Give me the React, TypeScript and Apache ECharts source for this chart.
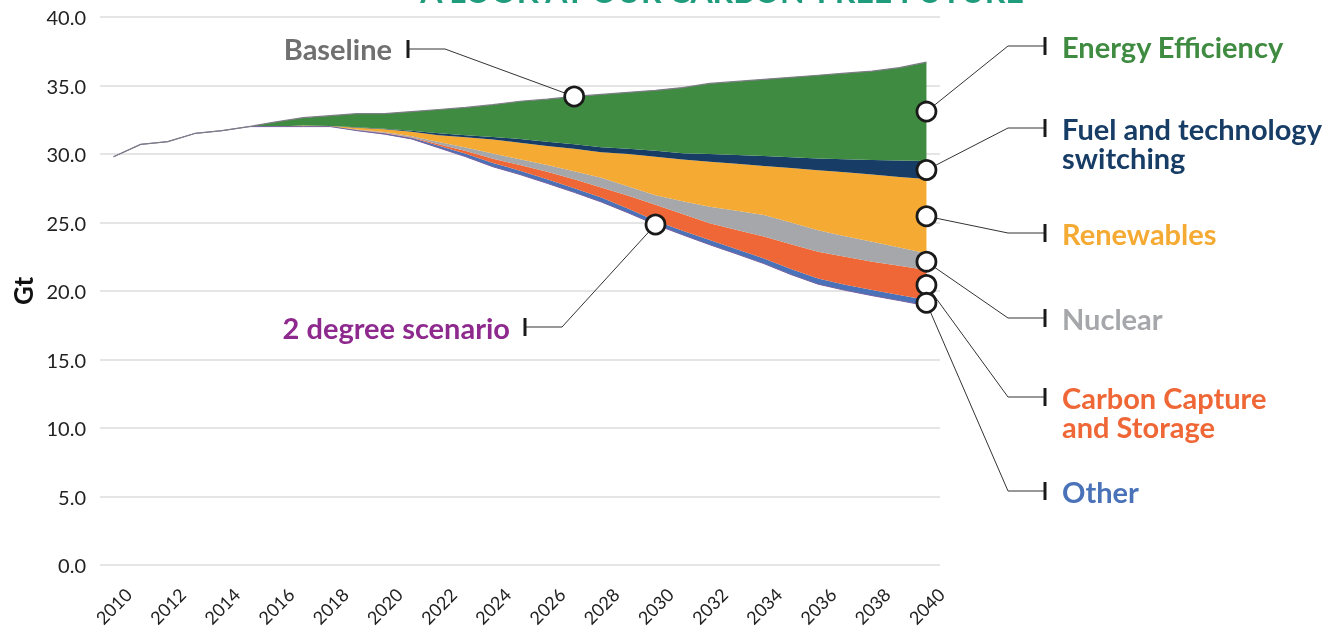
import React, { useEffect, useRef } from "react";
import * as echarts from "echarts";

const years = [
  "2010","2011","2012","2013","2014","2015","2016","2017","2018","2019","2020",
  "2021","2022","2023","2024","2025","2026","2027","2028","2029","2030",
  "2031","2032","2033","2034","2035","2036","2037","2038","2039","2040",
];

const yTicks = { min: 0, max: 40, interval: 5 };

const baseline = [29.8, 30.7, 30.9, 31.5, 31.7, 32.0, 32.35, 32.65, 32.8, 32.95, 32.95, 33.1, 33.25, 33.4, 33.6, 33.85, 34.0, 34.2, 34.35, 34.5, 34.65, 34.85, 35.15, 35.3, 35.45, 35.6, 35.75, 35.9, 36.05, 36.3, 36.7];

const twoDegree = [29.8, 30.7, 30.9, 31.5, 31.7, 32.0, 32.0, 32.0, 32.0, 31.7, 31.45, 31.1, 30.45, 29.8, 29.07, 28.5, 27.86, 27.2, 26.5, 25.7, 24.85, 24.1, 23.38, 22.7, 22.0, 21.2, 20.5, 20.05, 19.66, 19.3, 18.93];

const other = [0, 0, 0, 0, 0, 0, 0, 0, 0, 0.04, 0.07, 0.08, 0.15, 0.22, 0.28, 0.28, 0.29, 0.3, 0.32, 0.3, 0.27, 0.3, 0.34, 0.35, 0.38, 0.4, 0.42, 0.4, 0.41, 0.4, 0.41];

const ccs = [0, 0, 0, 0, 0, 0, 0, 0, 0, 0.02, 0.03, 0.04, 0.12, 0.2, 0.31, 0.42, 0.55, 0.65, 0.74, 0.95, 1.18, 1.22, 1.22, 1.4, 1.59, 1.82, 1.94, 2.05, 2.07, 2.15, 2.19];

const nuclear = [0, 0, 0, 0, 0, 0, 0, 0, 0, 0.02, 0.05, 0.08, 0.15, 0.25, 0.37, 0.42, 0.5, 0.6, 0.7, 0.67, 0.68, 0.93, 1.21, 1.4, 1.58, 1.58, 1.58, 1.5, 1.46, 1.33, 1.22];

const renewables = [0, 0, 0, 0, 0, 0, 0, 0.08, 0.04, 0.14, 0.2, 0.32, 0.5, 0.75, 1.02, 1.2, 1.38, 1.63, 1.87, 2.38, 2.82, 3.05, 3.29, 3.43, 3.57, 3.98, 4.38, 4.67, 4.9, 5.15, 5.42];

const fuelSwitching = [0, 0, 0, 0, 0, 0, 0, 0, 0, 0.03, 0.05, 0.08, 0.15, 0.15, 0.2, 0.28, 0.32, 0.34, 0.37, 0.38, 0.44, 0.45, 0.56, 0.64, 0.73, 0.79, 0.85, 0.95, 1.06, 1.19, 1.32];

const energyEfficiency = [0, 0, 0, 0, 0, 0, 0.35, 0.57, 0.76, 1.0, 1.1, 1.4, 1.73, 2.03, 2.35, 2.75, 3.1, 3.48, 3.85, 4.12, 4.41, 4.8, 5.15, 5.38, 5.6, 5.83, 6.08, 6.28, 6.49, 6.78, 7.21];

const wedgeNames = ["Other", "Carbon Capture and Storage", "Nuclear", "Renewables", "Fuel and technology switching", "Energy Efficiency"];
const wedgeValues = [other, ccs, nuclear, renewables, fuelSwitching, energyEfficiency];
const wedgeColors = ["#4a72b8", "#ef6736", "#a6a7aa", "#f4aa33", "#173d66", "#3f8b41"];

const FONT = "Lato";

export default function App() {
  const ref = useRef<HTMLDivElement>(null);

  useEffect(() => {
    if (!ref.current) return;
    const chart = echarts.init(ref.current, null, { renderer: "svg" });

    const series: any[] = [
      {
        name: "2 degree scenario",
        type: "line",
        stack: "total",
        data: twoDegree,
        symbol: "none",
        lineStyle: { color: "#76609f", width: 1 },
        z: 3,
      },
    ];
    wedgeNames.forEach((n, i) => {
      series.push({
        name: n,
        type: "line",
        stack: "total",
        data: wedgeValues[i],
        symbol: "none",
        lineStyle: { width: 0, opacity: 0 },
        areaStyle: { color: wedgeColors[i], opacity: 1 },
        z: 2,
      });
    });
    series.push({
      name: "Baseline",
      type: "line",
      data: baseline,
      symbol: "none",
      lineStyle: { color: "#7d7d86", width: 1.2 },
      z: 4,
    });

    chart.setOption({
      animation: false,
      textStyle: { fontFamily: FONT },
      grid: { left: 100, right: 398, top: 17, bottom: 68, containLabel: false },
      xAxis: {
        type: "category",
        data: years,
        boundaryGap: true,
        axisLine: { show: false },
        axisTick: { show: false },
        axisLabel: {
          interval: 1,
          rotate: 45,
          align: "center",
          verticalAlign: "middle",
          margin: 41,
          color: "#222",
          fontSize: 18,
          fontFamily: FONT,
        },
        splitLine: { show: false },
      },
      yAxis: {
        type: "value",
        min: yTicks.min,
        max: yTicks.max,
        interval: yTicks.interval,
        name: "Gt",
        nameLocation: "middle",
        nameRotate: 90,
        nameGap: 64,
        nameTextStyle: { fontSize: 26, fontWeight: "bold", color: "#111", fontFamily: FONT },
        axisLine: { show: false },
        axisTick: { show: false },
        axisLabel: {
          formatter: (v: number) => v.toFixed(1),
          color: "#222",
          fontSize: 20,
          margin: 14,
          fontFamily: FONT,
        },
        splitLine: { lineStyle: { color: "#dcdcdc", width: 1.5 } },
      },
      series,
    });

    const px = (i: number, v: number) =>
      chart.convertToPixel({ xAxisIndex: 0, yAxisIndex: 0 }, [i, v]) as number[];

    const last = years.length - 1;
    const bounds: number[] = [twoDegree[last]];
    wedgeValues.forEach((w) => bounds.push(bounds[bounds.length - 1] + w[last]));
    const mids = wedgeValues.map((_, k) => (bounds[k] + bounds[k + 1]) / 2);

    const lineColor = "#333";
    const barColor = "#1a1a1a";
    const g: any[] = [];
    const circles: any[] = [];

    const addCircle = (p: number[]) => {
      circles.push({
        type: "circle",
        shape: { cx: p[0], cy: p[1], r: 9.5 },
        style: { fill: "#fff", stroke: "#1a1a1a", lineWidth: 2.8 },
        z: 110,
      });
    };
    const text = (t: string, x: number, y: number, color: string, align: string, lines = 1) => ({
      type: "text",
      x,
      y: y - (lines > 1 ? 14.5 : 0),
      style: {
        text: t,
        fill: color,
        font: `bold 29px ${FONT}`,
        lineHeight: 29,
        align,
        verticalAlign: lines > 1 ? "top" : "middle",
        textAlign: align,
        textVerticalAlign: lines > 1 ? "top" : "middle",
      },
      z: 105,
    });

    const rightLabels = [
      { k: 5, y: 46, lines: ["Energy Efficiency"] },
      { k: 4, y: 128, lines: ["Fuel and technology", "switching"] },
      { k: 3, y: 233, lines: ["Renewables"] },
      { k: 2, y: 318, lines: ["Nuclear"] },
      { k: 1, y: 397, lines: ["Carbon Capture", "and Storage"] },
      { k: 0, y: 491, lines: ["Other"] },
    ];
    rightLabels.forEach((r) => {
      const p = px(last, mids[r.k]);
      g.push({
        type: "polyline",
        shape: { points: [[p[0], p[1]], [1008, r.y], [1045, r.y]] },
        style: { stroke: lineColor, lineWidth: 1, fill: null },
        z: 100,
      });
      g.push({
        type: "line",
        shape: { x1: 1045, y1: r.y - 9, x2: 1045, y2: r.y + 9 },
        style: { stroke: barColor, lineWidth: 3 },
        z: 101,
      });
      g.push(text(r.lines.join("\n"), 1062, r.y, wedgeColors[r.k], "left", r.lines.length));
      addCircle(p);
    });

    const bi = years.indexOf("2027");
    const bp = px(bi, baseline[bi]);
    g.push({
      type: "polyline",
      shape: { points: [[bp[0], bp[1]], [445, 49], [408, 49]] },
      style: { stroke: lineColor, lineWidth: 1, fill: null },
      z: 100,
    });
    g.push({
      type: "line",
      shape: { x1: 408, y1: 40, x2: 408, y2: 58 },
      style: { stroke: barColor, lineWidth: 3 },
      z: 101,
    });
    g.push(text("Baseline", 392, 48, "#707070", "right"));
    addCircle(bp);

    const ti = years.indexOf("2030");
    const tp = px(ti, twoDegree[ti]);
    g.push({
      type: "polyline",
      shape: { points: [[tp[0], tp[1]], [562, 327], [525, 327]] },
      style: { stroke: lineColor, lineWidth: 1, fill: null },
      z: 100,
    });
    g.push({
      type: "line",
      shape: { x1: 525, y1: 318, x2: 525, y2: 336 },
      style: { stroke: barColor, lineWidth: 3 },
      z: 101,
    });
    g.push(text("2 degree scenario", 510, 327, "#8e2a8e", "right"));
    addCircle(tp);

    g.push({
      type: "text",
      x: 722,
      y: 6,
      style: {
        text: "A LOOK AT OUR CARBON-FREE FUTURE",
        fill: "#1f9c7c",
        font: `bold 32px ${FONT}`,
        align: "center",
        verticalAlign: "bottom",
        textAlign: "center",
        textVerticalAlign: "bottom",
      },
      z: 100,
    });

    chart.setOption({ graphic: { elements: [...g, ...circles] } });

    return () => chart.dispose();
  }, []);

  return (
    <div
      ref={ref}
      style={{ position: "fixed", left: 0, top: 0, width: 1338, height: 633 }}
    />
  );
}
